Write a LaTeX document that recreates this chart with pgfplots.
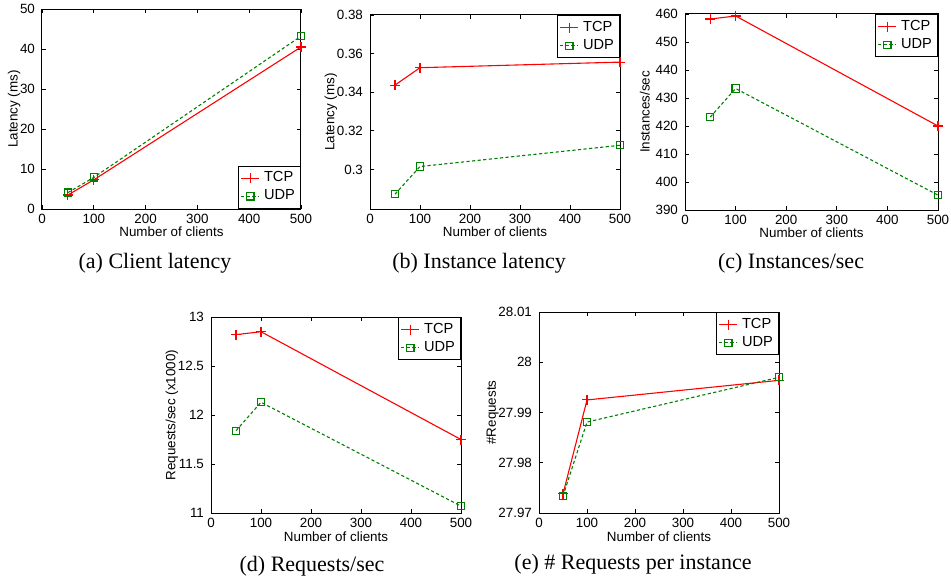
\documentclass[border=0pt]{standalone}
\usepackage{pgfplots}
\pgfplotsset{compat=1.18}
\usepackage{fontspec}
\setmainfont{Liberation Serif}
\newfontfamily\arial{Liberation Sans}
\definecolor{mgreen}{rgb}{0,0.5,0}
\pgfplotsset{
  myax/.style={
    scale only axis,
    xmin=0, xmax=500,
    xtick={0,100,...,500},
    tick align=inside,
    major tick length=2pt,
    scaled ticks=false,
    /pgf/number format/assume math mode=true,
    tick label style={font=\arial\fontsize{6.7}{7}\selectfont},
    label style={font=\arial\fontsize{6.7}{7}\selectfont},
    xlabel={Number of clients},
    xlabel style={yshift=5pt},
    ylabel style={yshift=-7pt},
    xticklabel style={yshift=1pt},
    axis line style={line width=0.5pt},
    every tick/.style={black, line width=0.4pt},
    legend style={font=\arial\fontsize{7.3}{7.3}\selectfont, inner sep=0.8pt, row sep=-1.5pt,
      at={(1,1)}, anchor=north east, cells={anchor=west}, line width=0.5pt},
    legend image code/.code={\draw[mark repeat=2,mark phase=2,line width=0.65pt] plot coordinates {(0cm,0cm)(0.16cm,0cm)(0.32cm,0cm)};},
  },
  tcp/.style={red, line width=0.55pt, mark=+, mark size=2.5pt, mark options={solid}},
  udp/.style={mgreen, line width=0.55pt, dash pattern=on 1.6pt off 1.2pt, mark=square, mark size=1.8pt, mark options={solid}},
}
\begin{document}
\begin{tikzpicture}[x=1pt,y=1pt]
\path[use as bounding box] (0,0) rectangle (475.5,289.5);
% (a)
\begin{axis}[myax, at={(21pt,185pt)}, anchor=south west, width=129.5pt, height=100pt,
  ymin=0, ymax=50, ytick={0,10,...,50}, ylabel={Latency (ms)},
  legend style={at={(1,0)}, anchor=south east}]
\addplot[tcp] coordinates {(50,3.5) (100,7.3) (500,40.5)};
\addplot[udp] coordinates {(50,4.1) (100,7.9) (500,43.2)};
\legend{TCP,UDP}
\end{axis}
% (b)
\begin{axis}[myax, at={(185pt,185pt)}, anchor=south west, width=125pt, height=97pt,
  ymin=0.2795, ymax=0.38, ytick={0.30,0.32,0.34,0.36,0.38},
  yticklabels={0.3,0.32,0.34,0.36,0.38}, ylabel={Latency (ms)}]
\addplot[tcp] coordinates {(50,0.3437) (100,0.3527) (500,0.3556)};
\addplot[udp] coordinates {(50,0.2872) (100,0.3015) (500,0.3125)};
\legend{TCP,UDP}
\end{axis}
% (c)
\begin{axis}[myax, at={(342.5pt,184.5pt)}, anchor=south west, width=126.5pt, height=98pt,
  ymin=390, ymax=460, ytick={390,400,...,460}, ylabel={Instances/sec},
  ylabel style={yshift=3pt}]
\addplot[tcp] coordinates {(50,458.2) (100,459.3) (500,420.0)};
\addplot[udp] coordinates {(50,423.2) (100,433.4) (500,395.3)};
\legend{TCP,UDP}
\end{axis}
% (d)
\begin{axis}[myax, at={(105.5pt,33pt)}, anchor=south west, width=125pt, height=98pt,
  ymin=11, ymax=13, ytick={11,11.5,12,12.5,13},
  yticklabels={11,11.5,12,12.5,13}, ylabel={Requests/sec (x1000)}]
\addplot[tcp] coordinates {(50,12.82) (100,12.85) (500,11.75)};
\addplot[udp] coordinates {(50,11.84) (100,12.13) (500,11.07)};
\legend{TCP,UDP}
\end{axis}
% (e)
\begin{axis}[myax, at={(269.5pt,33pt)}, anchor=south west, width=120pt, height=100.5pt,
  ymin=27.97, ymax=28.01, ytick={27.97,27.98,27.99,28,28.01},
  yticklabels={27.97,27.98,27.99,28,28.01}, ylabel={\#Requests}]
\addplot[tcp] coordinates {(50,27.9738) (100,27.9925) (500,27.9964)};
\addplot[udp] coordinates {(50,27.9734) (100,27.9881) (500,27.9970)};
\legend{TCP,UDP}
\end{axis}
% captions
\node[font=\fontsize{11}{12}\selectfont] at (77.5,158) {(a) Client latency};
\node[font=\fontsize{11}{12}\selectfont] at (239.5,158) {(b) Instance latency};
\node[font=\fontsize{11}{12}\selectfont] at (395.5,158) {(c) Instances/sec};
\node[font=\fontsize{11}{12}\selectfont] at (156,6.5) {(d) Requests/sec};
\node[font=\fontsize{11}{12}\selectfont] at (316.5,7.5) {(e) \# Requests per instance};
\end{tikzpicture}
\end{document}
